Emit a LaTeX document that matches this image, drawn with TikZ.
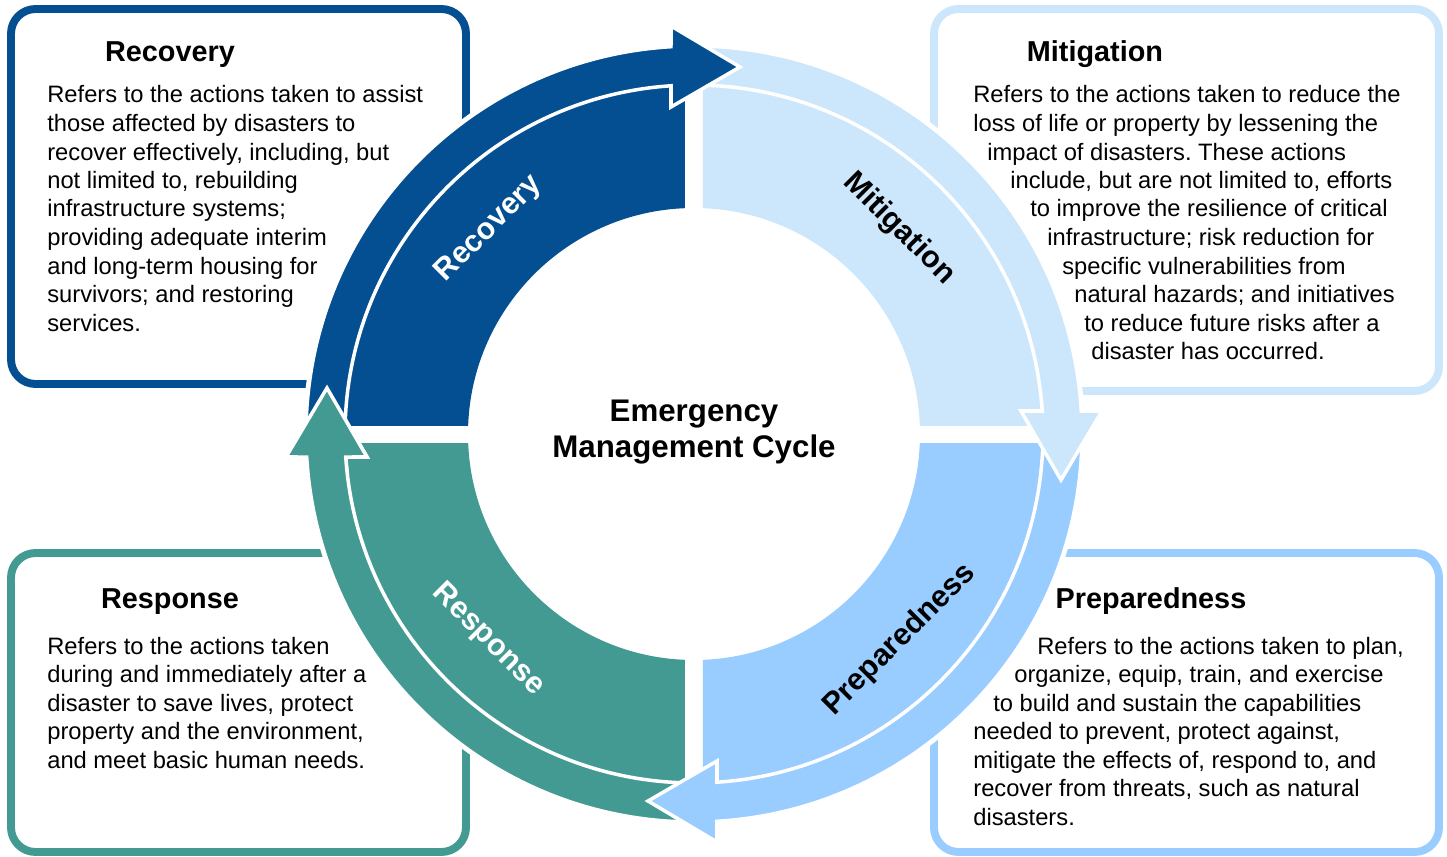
\documentclass[tikz,border=0pt]{standalone}
\usepackage{fontspec}
\setmainfont{Liberation Sans}
\frenchspacing
\definecolor{recov}{RGB}{4,79,145}
\definecolor{mitig}{RGB}{204,231,252}
\definecolor{prep}{RGB}{153,204,255}
\definecolor{resp}{RGB}{66,154,147}
\newcommand\bodyfont{\fontsize{13.5pt}{16.2pt}\selectfont}
\newcommand\titlefont{\fontsize{16.4pt}{19.7pt}\selectfont\bfseries}
\newcommand\labelfont{\fontsize{17.3pt}{20pt}\selectfont\bfseries}
\newcommand\centerfont{\fontsize{17.8pt}{21pt}\selectfont\bfseries}
\tikzset{
  infobox/.style={draw=#1, line width=4.5pt, rounded corners=14pt},
  band/.style={fill=#1, draw=white, line width=2pt, line join=miter},
  arrowshape/.style={insert path={(178.67:388) arc[start angle=178.67, end angle=93.4, radius=388]
      -- (-23,408) -- (46,367) -- (-23,327) -- (93.78:349)
      arc[start angle=93.78, end angle=178.52, radius=349] -- cycle}},
  ringlabel/.style={font=\labelfont, inner sep=0pt},
  boxtitle/.style={font=\titlefont, anchor=base, inner sep=0pt},
  boxline/.style={font=\bodyfont, anchor=base west, inner sep=0pt},
}
\begin{document}
\begin{tikzpicture}[x=0.02cm, y=0.02cm, line join=round]
\useasboundingbox (-694,-422) rectangle (753,434);
% boxes
\draw[infobox=recov] (-683,425) rectangle (-228,50);
\draw[infobox=mitig] (240,425) rectangle (745,43);
\draw[infobox=prep] (240,-119) rectangle (745,-418);
\draw[infobox=resp] (-683,-119) rectangle (-228,-418);
% white halo round the ring
\fill[white] (0,0) circle (391);
% inner quarters
\foreach \rot/\col in {0/recov,-90/mitig,-180/prep,-270/resp}{
  \begin{scope}[rotate=\rot]
    \clip (-9,9) rectangle (-400,400);
    \fill[\col, even odd rule] (0,0) circle (350) (0,0) circle (226);
  \end{scope}
}
% curved arrows, each head on top of the next arrow
\foreach \rot/\col in {-270/resp,-180/prep,-90/mitig,0/recov}
  \draw[rotate=\rot, band=\col, arrowshape];
% response head lies on top of the recovery arrow
\begin{scope}[rotate=-270]
  \clip (-40,300) rectangle (80,430);
  \draw[band=resp, arrowshape];
\end{scope}
% ring labels
\node[ringlabel, text=white, rotate=45] (reclabel) at (135:290) {Recovery};
\node[ringlabel, rotate=-45] (mitlabel) at (45:290) {Mitigation};
\node[ringlabel, rotate=45] (preplabel) at (-45:291) {Preparedness};
\node[ringlabel, text=white, rotate=-45] (resplabel) at (-135:291) {Response};
\node[font=\centerfont, align=center, inner sep=0pt] (emc) at (0,2) {Emergency\\Management Cycle};
% box titles
\node[boxtitle] (rectitle) at (-524,372) {Recovery};
\node[boxtitle] (mittitle) at (401,372) {Mitigation};
\node[boxtitle] (preptitle) at (457,-174) {Preparedness};
\node[boxtitle] (resptitle) at (-524,-174) {Response};
% box texts
\foreach \txt [count=\i] in {{Refers to the actions taken to assist},{those affected by disasters to},
  {recover effectively, including, but},{not limited to, rebuilding},{infrastructure systems;},
  {providing adequate interim},{and long-term housing for},{survivors; and restoring},{services.}}
  \node[boxline] (rec\i) at (-647,{331-28.5*(\i-1)}) {\txt};
\foreach \xx/\txt [count=\i] in {279/{Refers to the actions taken to reduce the},
  279/{loss of life or property by lessening the},293/{impact of disasters. These actions},
  316/{include, but are not limited to, efforts},336/{to improve the resilience of critical},
  353/{infrastructure; risk reduction for},368/{specific vulnerabilities from},
  380/{natural hazards; and initiatives},390/{to reduce future risks after a},
  397/{disaster has occurred.}}
  \node[boxline] (mit\i) at (\xx,{331-28.5*(\i-1)}) {\txt};
\foreach \xx/\txt [count=\i] in {343/{Refers to the actions taken to plan,},
  320/{organize, equip, train, and exercise},299/{to build and sustain the capabilities},
  279/{needed to prevent, protect against,},279/{mitigate the effects of, respond to, and},
  279/{recover from threats, such as natural},279/{disasters.}}
  \node[boxline] (prep\i) at (\xx,{-220-28.5*(\i-1)}) {\txt};
\foreach \txt [count=\i] in {{Refers to the actions taken},{during and immediately after a},
  {disaster to save lives, protect},{property and the environment,},{and meet basic human needs.}}
  \node[boxline] (resp\i) at (-647,{-220-28.5*(\i-1)}) {\txt};
\end{tikzpicture}
\end{document}
